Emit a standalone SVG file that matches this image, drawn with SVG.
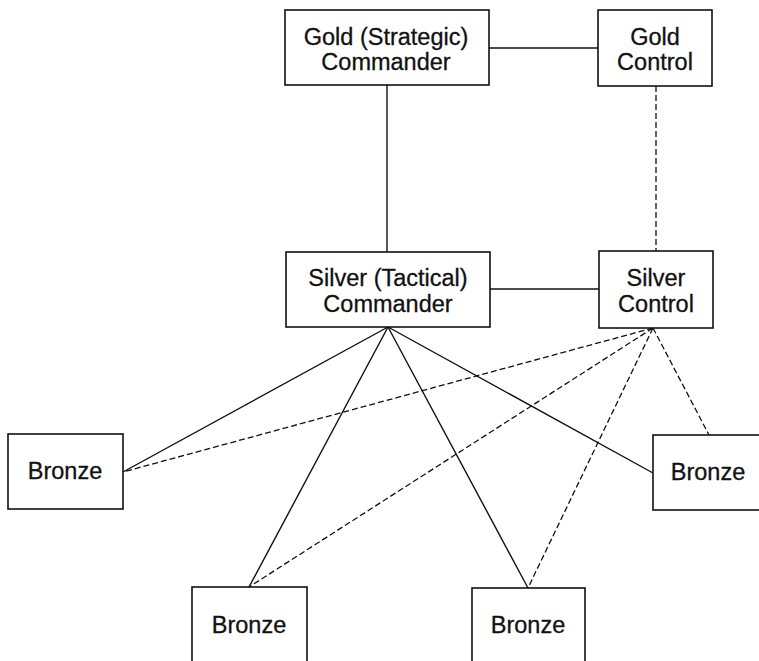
<svg xmlns="http://www.w3.org/2000/svg" width="759" height="661" viewBox="0 0 759 661">
  <style>
    .box { fill: #fff; stroke: #111; stroke-width: 1.6; }
    .lbl { font-family: "Liberation Sans", Arial, sans-serif; font-size: 23.5px; fill: #111; stroke: #111; stroke-width: 0.3; text-anchor: middle; }
    .solid { stroke: #111; stroke-width: 1.4; fill: none; }
    .dash { stroke: #111; stroke-width: 1.3; fill: none; stroke-dasharray: 6 3; }
  </style>
  <rect width="759" height="661" fill="#fff"/>

  <g id="connectors">
    <line class="solid" x1="489" y1="48" x2="598" y2="48"/>
    <line class="solid" x1="387" y1="85" x2="387" y2="252"/>
    <line class="dash" x1="656" y1="86" x2="656" y2="251"/>
    <line class="solid" x1="490" y1="289" x2="599" y2="289"/>
    <!-- commander links -->
    <line class="solid" x1="388" y1="327" x2="123" y2="472"/>
    <line class="solid" x1="388" y1="327" x2="249" y2="587"/>
    <line class="solid" x1="388" y1="327" x2="528" y2="588"/>
    <line class="solid" x1="388" y1="327" x2="653" y2="473"/>
    <!-- control links -->
    <line class="dash" x1="653" y1="328" x2="123" y2="472"/>
    <line class="dash" x1="653" y1="328" x2="249" y2="587"/>
    <line class="dash" x1="653" y1="328" x2="528" y2="588"/>
    <line class="dash" x1="653" y1="328" x2="709" y2="435"/>
  </g>

  <g id="gold-commander">
    <rect class="box" x="285" y="10" width="204" height="75"/>
    <text class="lbl" x="386" y="45">Gold (Strategic)</text>
    <text class="lbl" x="386" y="70">Commander</text>
  </g>
  <g id="gold-control">
    <rect class="box" x="598" y="10" width="114" height="76"/>
    <text class="lbl" x="655" y="45">Gold</text>
    <text class="lbl" x="655" y="70">Control</text>
  </g>
  <g id="silver-commander">
    <rect class="box" x="286" y="252" width="204" height="75"/>
    <text class="lbl" x="388" y="286">Silver (Tactical)</text>
    <text class="lbl" x="388" y="312">Commander</text>
  </g>
  <g id="silver-control">
    <rect class="box" x="599" y="251" width="114" height="77"/>
    <text class="lbl" x="656" y="286">Silver</text>
    <text class="lbl" x="656" y="312">Control</text>
  </g>
  <g id="bronze-left">
    <rect class="box" x="8" y="434" width="115" height="75"/>
    <text class="lbl" x="65" y="479">Bronze</text>
  </g>
  <g id="bronze-right">
    <rect class="box" x="653" y="435" width="115" height="75"/>
    <text class="lbl" x="708" y="480">Bronze</text>
  </g>
  <g id="bronze-bottom-left">
    <rect class="box" x="192" y="587" width="115" height="85"/>
    <text class="lbl" x="249" y="633">Bronze</text>
  </g>
  <g id="bronze-bottom-right">
    <rect class="box" x="472" y="588" width="113" height="85"/>
    <text class="lbl" x="528" y="633">Bronze</text>
  </g>
</svg>
